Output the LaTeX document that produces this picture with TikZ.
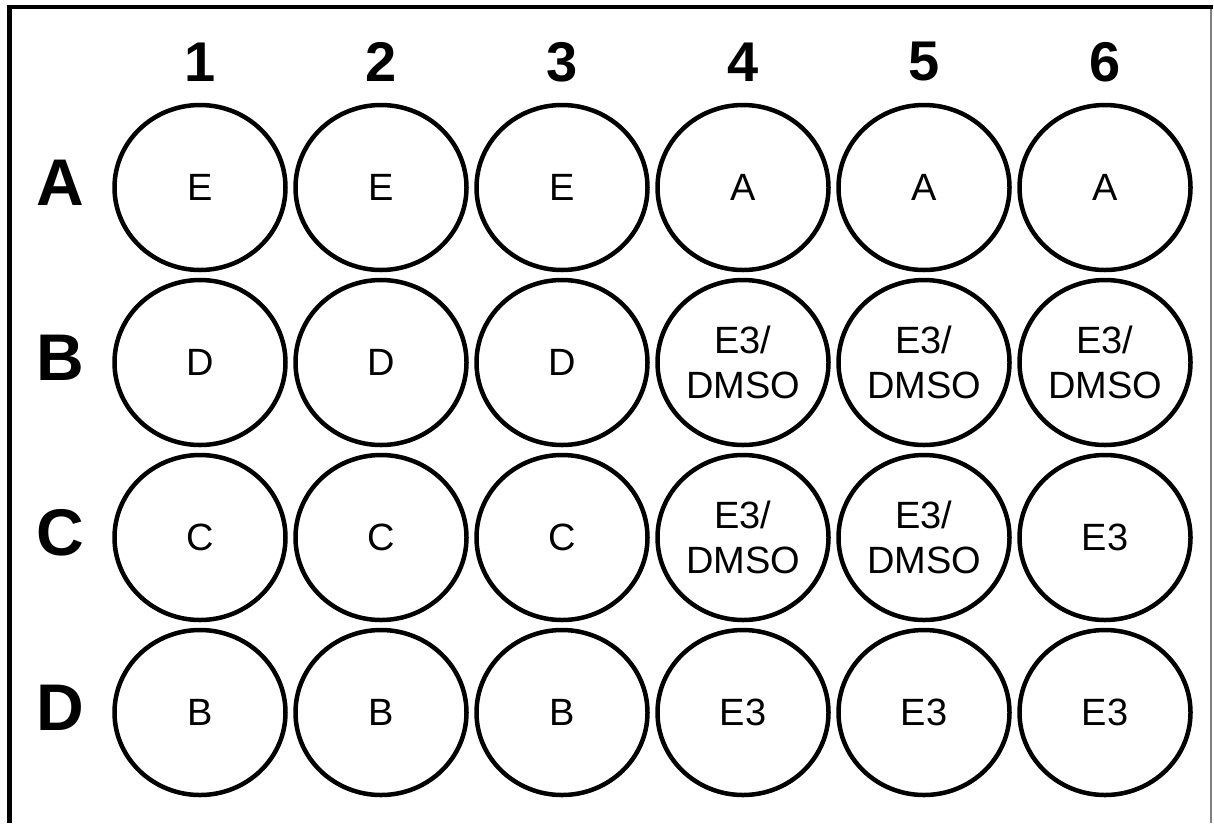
\documentclass[tikz,border=0pt]{standalone}
\usepackage{fontspec}
\usepackage{tikz}
\usetikzlibrary{shapes.geometric}
\newfontfamily\arial{Liberation Sans}
\newcommand{\welltext}{\arial\fontsize{38}{45}\selectfont}
\newcommand{\rowfont}{\arial\bfseries\fontsize{66}{70}\selectfont}
\newcommand{\colfont}{\arial\bfseries\fontsize{56}{60}\selectfont}
\newcommand{\mix}{E3/\\DMSO}

\begin{document}
\begin{tikzpicture}[
    x=1pt, y=-1pt,
    well/.style={ellipse, draw, line width=4.5pt, minimum width=171pt, minimum height=165pt, inner sep=0pt, align=center, font=\welltext},
    rowlab/.style={font=\rowfont, inner sep=0pt},
    collab/.style={font=\colfont, inner sep=0pt},
]
\useasboundingbox (0,0) rectangle (1214,823);
% plate frame
\draw[gray, line width=1.5pt] (1211,7) -- (1211,823);
\draw[line width=4.5pt] (9.5,823) -- (9.5,7) -- (1213,7);

% column and row labels
\foreach \c [count=\i] in {1,...,6}
    \node[collab] (col\c) at ({200+181*(\i-1)},62) {\c};
\foreach \r [count=\j] in {A,B,C,D}
    \node[rowlab] (row\r) at (60,{183+175*(\j-1)}) {\r};

% wells
\foreach \r/\content [count=\j] in {A/{E,E,E,A,A,A}, B/{D,D,D,\mix,\mix,\mix}, C/{C,C,C,\mix,\mix,E3}, D/{B,B,B,E3,E3,E3}}
    \foreach \t [count=\i] in \content
        \node[well] (\r\i) at ({200+181*(\i-1)},{187.5+175*(\j-1)}) {\t};
\end{tikzpicture}
\end{document}
